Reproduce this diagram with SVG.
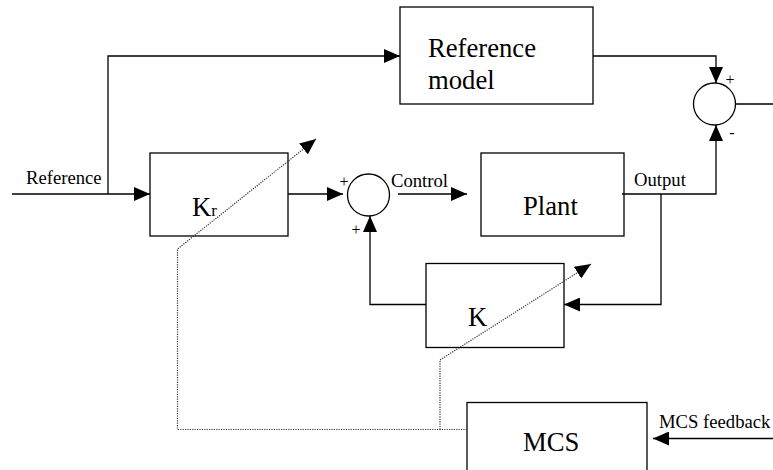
<svg xmlns="http://www.w3.org/2000/svg" width="773" height="470" viewBox="0 0 773 470">
<defs>
<marker id="arr" viewBox="0 0 16 14" refX="16" refY="7" markerWidth="16" markerHeight="14" markerUnits="userSpaceOnUse" orient="auto">
<path d="M0,0 L16,7 L0,14 z" fill="#000" stroke="none"/>
</marker>
<style>
.box{fill:none;stroke:#000;stroke-width:1.3}
.sum{fill:none;stroke:#000;stroke-width:1.3}
.ln{fill:none;stroke:#000;stroke-width:1.3}
.dot{fill:none;stroke:#333;stroke-width:1.2;stroke-dasharray:1.2 1.2}
.big{font-family:"Liberation Serif","Times New Roman",serif;font-size:26.67px;fill:#000}
.sm{font-family:"Liberation Serif","Times New Roman",serif;font-size:18.67px;fill:#000}
.sg{font-family:"Liberation Serif","Times New Roman",serif;font-size:16px;fill:#000;text-anchor:middle}
</style>
</defs>
<rect width="773" height="470" fill="#fff"/>
<g id="reference-label"><text class="sm" x="26" y="184">Reference</text></g>
<g id="reference-model">
<rect class="box" x="400" y="7" width="193" height="97"/>
<text class="big" x="428" y="57">Reference</text>
<text class="big" x="428" y="88.5">model</text>
</g>
<g id="kr">
<rect class="box" x="150" y="153" width="138" height="83"/>
<text class="big" x="192" y="216">K<tspan font-size="17px">r</tspan></text>
</g>
<g id="sum1">
<circle class="sum" cx="368.5" cy="195" r="21"/>
<text class="sg" x="344" y="187">+</text>
<text class="sg" x="356" y="235">+</text>
</g>
<g id="control-label"><text class="sm" x="391" y="186.5">Control</text></g>
<g id="plant">
<rect class="box" x="481" y="153" width="143" height="83"/>
<text class="big" x="523" y="215">Plant</text>
</g>
<g id="output-label"><text class="sm" x="634" y="186">Output</text></g>
<g id="sum2">
<circle class="sum" cx="714.5" cy="104" r="21"/>
<text class="sg" x="730" y="85">+</text>
<text class="sg" x="732" y="138">-</text>
</g>
<g id="k">
<rect class="box" x="426" y="263.5" width="138" height="84"/>
<text class="big" x="468" y="326">K</text>
</g>
<g id="mcs">
<rect class="box" x="467" y="402.5" width="180" height="80"/>
<text class="big" x="523" y="451">MCS</text>
</g>
<g id="mcs-feedback-label"><text class="sm" x="659" y="428">MCS feedback</text></g>
<g id="connectors">
<path class="ln" d="M12,194 H150" marker-end="url(#arr)"/>
<path class="ln" d="M108,194 V56 H400" marker-end="url(#arr)"/>
<path class="ln" d="M288,194 H343" marker-end="url(#arr)"/>
<path class="ln" d="M398,194 H467" marker-end="url(#arr)"/>
<path class="ln" d="M622,194 H716 V125" marker-end="url(#arr)"/>
<path class="ln" d="M593,56 H716 V83" marker-end="url(#arr)"/>
<path class="ln" d="M735,104 H773"/>
<path class="ln" d="M661,194 V304.5 H564" marker-end="url(#arr)"/>
<path class="ln" d="M426,304.5 H370 V216" marker-end="url(#arr)"/>
<path class="ln" d="M773,438.5 H653" marker-end="url(#arr)"/>
<path class="dot" d="M467,429.5 H177.5 V249 L316,139" marker-end="url(#arr)"/>
<path class="dot" d="M440,429.5 V360 L591,264" marker-end="url(#arr)"/>
</g>
</svg>
